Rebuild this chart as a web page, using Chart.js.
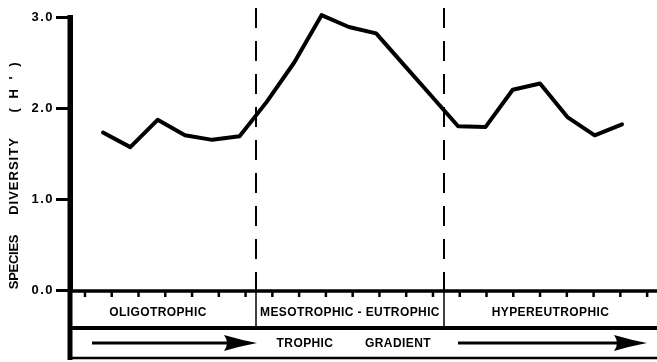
<!DOCTYPE html>
<html><head><meta charset="utf-8">
<script src="https://cdn.jsdelivr.net/npm/chart.js@4/dist/chart.umd.min.js"></script>
<style>html,body{margin:0;padding:0;background:#fff;}#wrap{width:657px;height:362px;}</style>
</head><body><div id="wrap"><canvas id="c" width="657" height="362"></canvas></div>
<script>
// Sample stations along the trophic gradient (equally spaced)
const stations = [1,2,3,4,5,6,7,8,9,10,11,12,13,14,15,16,17,18,19,20];
// Species diversity H'
const diversity = [1.73,1.57,1.87,1.70,1.65,1.69,2.07,2.50,3.02,2.89,2.82,2.48,2.14,1.80,1.79,2.20,2.27,1.90,1.70,1.82];
const yTicks = [0,1,2,3];
// zone boundaries (in station units)
const zoneBounds = [6.6, 13.5];
const zoneLabels = ['OLIGOTROPHIC','MESOTROPHIC - EUTROPHIC','HYPEREUTROPHIC'];
const gradientWords = ['TROPHIC','GRADIENT'];
const yTitleWords = ['SPECIES','DIVERSITY',"( H ' )"];
// minor marks along the band (station units)
const bandMarks = [0.34,1.32,2.30,3.28,4.26,5.24,6.22,7.20,8.18,9.16,10.14,11.12,12.10,13.08,14.06,15.04,16.02,17.00,17.98,18.96,19.94,20.92];

const FONT = 'Liberation Sans, Arial, sans-serif';

const decor = {
  id:'decor',
  beforeDraw(chart){ chart.ctx.letterSpacing = '1.5px'; },
  beforeDatasetsDraw(chart){
    const ctx = chart.ctx, xs = chart.scales.x, ca = chart.chartArea;
    ctx.save();
    ctx.letterSpacing = '0px';
    ctx.strokeStyle = '#000';
    ctx.lineWidth = 2;
    ctx.setLineDash([20,13]);
    zoneBounds.forEach(b=>{
      const x = Math.round(xs.getPixelForValue(b));
      ctx.beginPath(); ctx.moveTo(x, 8); ctx.lineTo(x, ca.bottom); ctx.stroke();
    });
    ctx.restore();
  },
  afterDraw(chart){
    const ctx = chart.ctx, xs = chart.scales.x, ca = chart.chartArea;
    const W = chart.width;
    ctx.save();
    ctx.letterSpacing = '0px';
    ctx.strokeStyle = '#000'; ctx.fillStyle = '#000';
    const yTop = ca.bottom + 1, ySep = 328, yBot = 358;
    // axis line / band top
    ctx.lineWidth = 3.5;
    ctx.beginPath(); ctx.moveTo(ca.left, yTop); ctx.lineTo(W, yTop); ctx.stroke();
    // left border continuing the y axis
    ctx.lineWidth = 5;
    ctx.beginPath(); ctx.moveTo(ca.left, ca.top - 2); ctx.lineTo(ca.left, yBot + 2); ctx.stroke();
    // separator and bottom
    ctx.lineWidth = 4;
    ctx.beginPath(); ctx.moveTo(ca.left, ySep); ctx.lineTo(W, ySep); ctx.stroke();
    ctx.lineWidth = 2.5;
    ctx.beginPath(); ctx.moveTo(ca.left, yBot); ctx.lineTo(W, yBot); ctx.stroke();
    // band marks
    ctx.lineWidth = 2.5;
    bandMarks.forEach(m=>{
      const x = xs.getPixelForValue(m);
      ctx.beginPath(); ctx.moveTo(x, yTop); ctx.lineTo(x, yTop + 6); ctx.stroke();
    });
    // zone dividers in the band
    ctx.lineWidth = 1.5;
    const bx = zoneBounds.map(b=>Math.round(xs.getPixelForValue(b)));
    bx.forEach(x=>{ ctx.beginPath(); ctx.moveTo(x, yTop); ctx.lineTo(x, ySep); ctx.stroke(); });
    // zone labels
    ctx.font = 'bold 12px ' + FONT;
    ctx.textAlign = 'center'; ctx.textBaseline = 'middle';
    ctx.letterSpacing = '0.4px';
    const edges = [ca.left, bx[0], bx[1], W];
    const zoneShift = [-5, 0, 0];
    zoneLabels.forEach((t,i)=>{
      const cx = (edges[i] + edges[i+1]) / 2 + zoneShift[i];
      ctx.fillText(t, cx, 313);
    });
    // gradient words
    ctx.fillText(gradientWords[0], 305, 344);
    ctx.fillText(gradientWords[1], 398, 344);
    // arrows
    function arrow(x0, x1, y){
      ctx.lineWidth = 3;
      ctx.beginPath(); ctx.moveTo(x0, y); ctx.lineTo(x1 - 28, y); ctx.stroke();
      ctx.beginPath();
      ctx.moveTo(x1, y);
      ctx.quadraticCurveTo(x1 - 16, y - 3, x1 - 33, y - 8);
      ctx.quadraticCurveTo(x1 - 27, y, x1 - 33, y + 8);
      ctx.quadraticCurveTo(x1 - 16, y + 3, x1, y);
      ctx.fill();
    }
    arrow(92, 257, 343);
    arrow(458, 647, 343);
    // y axis title
    ctx.save();
    ctx.translate(14, 0);
    ctx.rotate(-Math.PI/2);
    ctx.font = 'bold 13px ' + FONT;
    ctx.textAlign = 'center'; ctx.textBaseline = 'middle';
    const titleY = [262, 176, 86];
    const titleSp = ['-0.3px','1px','3px'];
    yTitleWords.forEach((w,i)=>{ ctx.letterSpacing = titleSp[i]; ctx.fillText(w, -titleY[i], 0); });
    ctx.restore();
    ctx.restore();
  }
};

new Chart(document.getElementById('c'), {
  type:'line',
  data:{datasets:[{
    data: stations.map((s,i)=>({x:s, y:diversity[i]})),
    borderColor:'#000', borderWidth:4, pointRadius:0, tension:0, fill:false, clip:false,
    borderJoinStyle:'round', borderCapStyle:'round'
  }]},
  options:{
    responsive:false, animation:false, devicePixelRatio:1,
    layout:{padding:{left:0, right:7, top:17, bottom:72}},
    plugins:{legend:{display:false}, tooltip:{enabled:false}},
    scales:{
      x:{type:'linear', min:-0.208, max:21.025, display:false},
      y:{min:0, max:3,
        afterFit:s=>{ s.width = 70; },
        afterBuildTicks:s=>{ s.ticks = yTicks.map(v=>({value:v})); },
        ticks:{color:'#000', font:{family:FONT, weight:'bold', size:13}, padding:2,
               callback:v=>Number(v).toFixed(1)},
        grid:{drawOnChartArea:false, drawTicks:true, tickLength:14, color:'#000', lineWidth:3},
        border:{display:true, color:'#000', width:5}
      }
    }
  },
  plugins:[decor]
});
</script>
</body></html>
